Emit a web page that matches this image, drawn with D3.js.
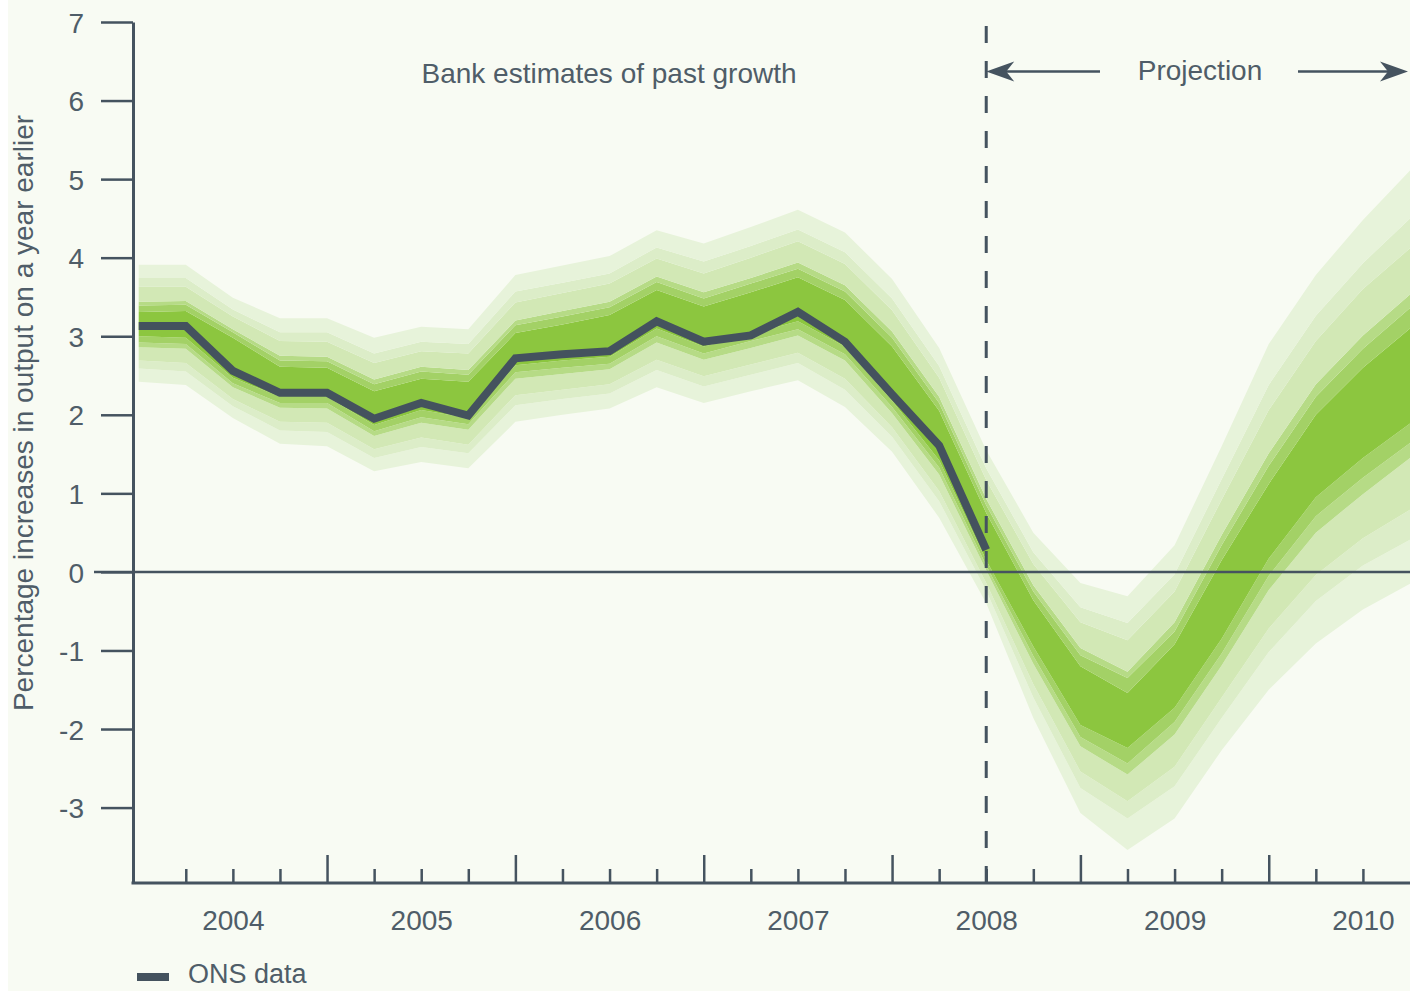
<!DOCTYPE html>
<html>
<head>
<meta charset="utf-8">
<script src="https://cdn.jsdelivr.net/npm/d3@7"></script>
<style>
  html, body { margin: 0; padding: 0; background: #ffffff; }
  svg { display: block; }
  text { font-family: "Liberation Sans", Arial, Helvetica, sans-serif; }
</style>
</head>
<body>
<svg id="chart" width="1416" height="991"></svg>
<script>
// ---- data ----
const quarters = ["2004Q1","2004Q2","2004Q3","2004Q4","2005Q1","2005Q2","2005Q3","2005Q4",
  "2006Q1","2006Q2","2006Q3","2006Q4","2007Q1","2007Q2","2007Q3","2007Q4",
  "2008Q1","2008Q2","2008Q3","2008Q4","2009Q1","2009Q2","2009Q3","2009Q4",
  "2010Q1","2010Q2","2010Q3","2010Q4"];
const onsData = [3.13,3.13,2.56,2.28,2.28,1.95,2.15,1.99,2.72,2.77,2.81,3.19,2.93,3.01,3.31,2.93,2.26,1.61,0.28];

// fan boundaries, outermost lower (lower5) to outermost upper (upper5)
const lower5 = [2.42,2.38,1.96,1.63,1.60,1.28,1.40,1.32,1.91,2.00,2.08,2.35,2.15,2.30,2.44,2.10,1.53,0.69,-0.40,-1.86,-3.07,-3.54,-3.14,-2.27,-1.50,-0.91,-0.48,-0.15];
const lower4 = [2.59,2.55,2.11,1.80,1.78,1.45,1.59,1.51,2.12,2.20,2.27,2.57,2.36,2.51,2.66,2.32,1.72,0.90,-0.24,-1.60,-2.75,-3.14,-2.73,-1.86,-1.02,-0.37,0.08,0.41];
const lower3 = [2.69,2.66,2.20,1.91,1.90,1.56,1.71,1.62,2.25,2.32,2.39,2.70,2.49,2.64,2.79,2.46,1.84,1.03,-0.14,-1.43,-2.54,-2.92,-2.48,-1.60,-0.72,-0.04,0.43,0.79];
const lower2 = [2.86,2.84,2.35,2.09,2.08,1.73,1.90,1.81,2.46,2.52,2.58,2.92,2.70,2.85,3.01,2.69,2.02,1.24,0.02,-1.17,-2.22,-2.58,-2.07,-1.19,-0.23,0.50,0.99,1.45];
const lower1 = [2.92,2.90,2.40,2.15,2.15,1.79,1.97,1.88,2.54,2.60,2.65,3.00,2.78,2.94,3.09,2.77,2.10,1.33,0.08,-1.07,-2.10,-2.44,-1.91,-1.04,-0.05,0.71,1.20,1.64];
const lower0 = [3.00,2.98,2.47,2.23,2.23,1.87,2.06,1.96,2.63,2.69,2.74,3.10,2.87,3.03,3.19,2.87,2.18,1.42,0.15,-0.95,-1.95,-2.24,-1.73,-0.85,0.17,0.95,1.45,1.89];
const upper0 = [3.31,3.32,2.98,2.61,2.60,2.30,2.46,2.42,3.04,3.15,3.27,3.59,3.38,3.56,3.75,3.46,2.87,2.05,0.75,-0.36,-1.20,-1.54,-0.92,0.15,1.12,2.00,2.60,3.10];
const upper1 = [3.39,3.40,3.05,2.69,2.68,2.39,2.55,2.51,3.14,3.25,3.37,3.69,3.48,3.67,3.86,3.57,2.98,2.15,0.85,-0.25,-1.06,-1.35,-0.76,0.34,1.35,2.23,2.84,3.36];
const upper2 = [3.44,3.45,3.09,2.75,2.74,2.45,2.61,2.57,3.20,3.32,3.44,3.76,3.56,3.74,3.94,3.65,3.06,2.23,0.93,-0.17,-0.97,-1.27,-0.64,0.47,1.51,2.39,3.01,3.53];
const upper3 = [3.63,3.63,3.25,2.94,2.93,2.66,2.81,2.78,3.43,3.55,3.67,3.99,3.80,4.00,4.21,3.92,3.33,2.47,1.17,0.10,-0.64,-0.87,-0.25,0.92,2.06,2.94,3.60,4.12];
const upper4 = [3.74,3.74,3.34,3.05,3.05,2.78,2.93,2.90,3.57,3.68,3.80,4.13,3.95,4.15,4.36,4.07,3.48,2.62,1.32,0.25,-0.45,-0.65,-0.03,1.18,2.38,3.26,3.93,4.50];
const upper5 = [3.91,3.91,3.49,3.23,3.23,2.98,3.12,3.09,3.78,3.90,4.02,4.35,4.18,4.39,4.61,4.32,3.73,2.85,1.55,0.50,-0.14,-0.31,0.34,1.60,2.90,3.78,4.48,5.11];

const bandColors = ["#e7f3da","#dcedc8","#d2e8b5","#b6db86","#a3d166","#8cc63f","#a3d166","#b6db86","#d2e8b5","#dcedc8","#e7f3da"];
const yTicks = [-3,-2,-1,0,1,2,3,4,5,6,7];
const yearLabels = ["2004","2005","2006","2007","2008","2009","2010"];
const projectionStart = "2008Q3";
const yTitle = "Percentage increases in output on a year earlier";
const pastLabel = "Bank estimates of past growth";
const projLabel = "Projection";
const legendLabel = "ONS data";

// ---- helpers ----
const qNum = q => +q.slice(0,4) + (+q.slice(5) - 1) / 4;
const qx = quarters.map(qNum);

const svg = d3.select("#chart");
const ink = "#45535f";
const textInk = "#4f5d68";

svg.append("rect").attr("x", 8).attr("y", 0).attr("width", 1402).attr("height", 991).attr("fill", "#f8fbf3");

const x = d3.scaleLinear().domain([2004, 2010.75]).range([138.7, 1410]);
const y = d3.scaleLinear().domain([-3.96, 7]).range([883, 22]);

// ---- fan ----
const bounds = [lower5, lower4, lower3, lower2, lower1, lower0, upper0, upper1, upper2, upper3, upper4, upper5];
const fanG = svg.append("g");
for (let b = 0; b < bounds.length - 1; b++) {
  const lo = bounds[b], hi = bounds[b + 1];
  const area = d3.area()
    .x((d, i) => x(qx[i]))
    .y0((d, i) => y(lo[i]))
    .y1((d, i) => y(hi[i]))
    .curve(d3.curveLinear);
  fanG.append("path").datum(quarters).attr("d", area).attr("fill", bandColors[b]);
}

// ---- zero line ----
svg.append("line").attr("x1", 94).attr("x2", 1410).attr("y1", y(0)).attr("y2", y(0))
  .attr("stroke", ink).attr("stroke-width", 2.5);

// ---- projection dashed line ----
const px = x(qNum(projectionStart));
svg.append("line").attr("x1", px).attr("x2", px).attr("y1", 26).attr("y2", 883)
  .attr("stroke", ink).attr("stroke-width", 3).attr("stroke-dasharray", "17,18");

// ---- axes ----
const yAxis = d3.axisLeft(y).tickValues(yTicks).tickSize(32).tickSizeOuter(0).tickPadding(17)
  .tickFormat(d => String(d));
const yg = svg.append("g").attr("transform", "translate(133,0)").call(yAxis);
yg.select(".domain").attr("stroke", ink).attr("stroke-width", 3);
yg.selectAll(".tick line").attr("stroke", ink).attr("stroke-width", 2.5);
yg.selectAll(".tick text").attr("fill", textInk).attr("font-size", 28)
  .attr("font-family", "Liberation Sans, Arial, sans-serif").attr("dy", "0.36em");

const minorVals = qx.filter(v => v > 2004.1 && v < 2010.7 && Math.abs(v - Math.round(v)) > 0.01);
const majorVals = qx.filter(v => v > 2004.1 && Math.abs(v - Math.round(v)) < 0.01);
const xMinor = d3.axisBottom(x).tickValues(minorVals).tickSizeInner(-14).tickSizeOuter(0).tickFormat("");
const xMajor = d3.axisBottom(x).tickValues(majorVals).tickSizeInner(-28).tickSizeOuter(0).tickFormat("");
const gMinor = svg.append("g").attr("transform", "translate(0,883)").call(xMinor);
const gMajor = svg.append("g").attr("transform", "translate(0,883)").call(xMajor);
[gMinor, gMajor].forEach(g => {
  g.select(".domain").remove();
  g.selectAll(".tick line").attr("stroke", ink).attr("stroke-width", 2.5);
});
svg.append("line").attr("x1", 131.5).attr("x2", 1410).attr("y1", 883).attr("y2", 883)
  .attr("stroke", ink).attr("stroke-width", 3);

const labelVals = yearLabels.map(l => +l + 0.5);
const xLabels = d3.axisBottom(x).tickValues(labelVals).tickSize(0).tickPadding(27)
  .tickFormat((d, i) => yearLabels[i]);
const gl = svg.append("g").attr("transform", "translate(0,883)").call(xLabels);
gl.select(".domain").remove();
gl.selectAll(".tick text").attr("fill", textInk).attr("font-size", 28)
  .attr("font-family", "Liberation Sans, Arial, sans-serif");

// ---- ONS line ----
const line = d3.line().x((d, i) => x(qx[i])).y(d => y(d));
svg.append("path").datum(onsData).attr("d", line).attr("fill", "none")
  .attr("stroke", "#44525e").attr("stroke-width", 8).attr("stroke-linejoin", "miter");

// ---- annotations ----
svg.append("text").attr("x", 609).attr("y", 83).attr("text-anchor", "middle")
  .attr("font-size", 28).attr("fill", textInk).text(pastLabel);
svg.append("text").attr("x", 1200).attr("y", 80).attr("text-anchor", "middle")
  .attr("font-size", 28).attr("fill", textInk).text(projLabel);

const ay = 71.5;
svg.append("line").attr("x1", px + 10).attr("x2", 1100).attr("y1", ay).attr("y2", ay)
  .attr("stroke", ink).attr("stroke-width", 2.5);
svg.append("path").attr("d", `M${px},${ay} L${px + 28},${ay - 10} L${px + 20},${ay} L${px + 28},${ay + 10} Z`).attr("fill", ink);
svg.append("line").attr("x1", 1298).attr("x2", 1398).attr("y1", ay).attr("y2", ay)
  .attr("stroke", ink).attr("stroke-width", 2.5);
svg.append("path").attr("d", `M1408,${ay} L1380,${ay - 10} L1388,${ay} L1380,${ay + 10} Z`).attr("fill", ink);

// y title
svg.append("text").attr("transform", "translate(33,413) rotate(-90)").attr("text-anchor", "middle")
  .attr("font-size", 28).attr("fill", textInk).text(yTitle);

// legend (kept fully inside the frame)
svg.append("rect").attr("x", 137).attr("y", 973).attr("width", 32).attr("height", 8).attr("fill", "#44525e");
svg.append("text").attr("x", 188).attr("y", 983).attr("font-size", 27).attr("fill", textInk).text(legendLabel);
</script>
</body>
</html>
